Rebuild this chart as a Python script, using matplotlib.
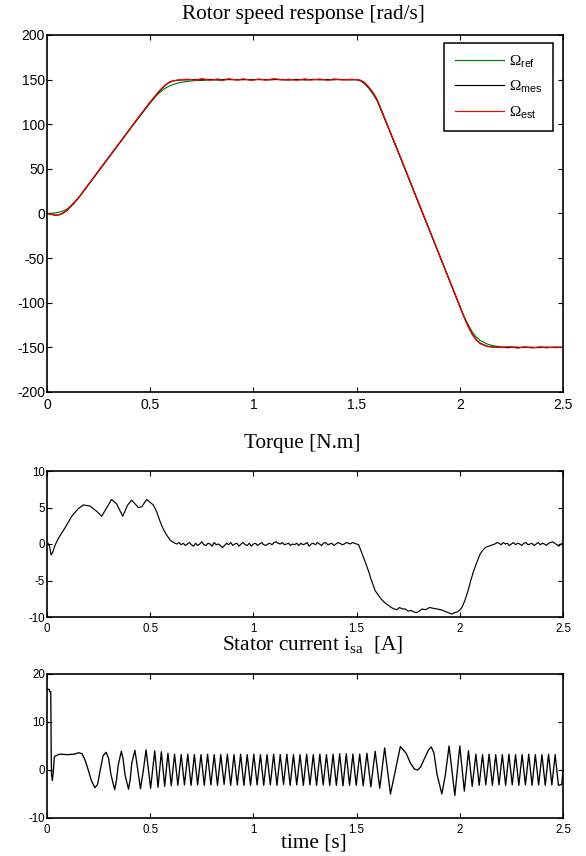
import numpy as np
import matplotlib
matplotlib.use("Agg")
import matplotlib.pyplot as plt
from matplotlib.lines import Line2D

plt.rcParams['font.family'] = ['Liberation Sans', 'DejaVu Sans']
plt.rcParams['axes.unicode_minus'] = False
plt.rcParams['mathtext.fontset'] = 'custom'
plt.rcParams['mathtext.rm'] = 'Liberation Serif'
plt.rcParams['mathtext.sf'] = 'Liberation Sans'

# ---------------- data ----------------
x_ticks = [0, 0.5, 1, 1.5, 2, 2.5]
x_ticklabels = ['0', '0.5', '1', '1.5', '2', '2.5']
speed_yticks = [-200, -150, -100, -50, 0, 50, 100, 150, 200]
torque_yticks = [-10, -5, 0, 5, 10]
current_yticks = [-10, 0, 10, 20]

# speed reference (green)
t_ref = [0, 0.03, 0.06, 0.08, 0.10, 0.12, 0.15, 0.20, 0.25, 0.30, 0.35, 0.40, 0.45, 0.50,
         0.53, 0.55, 0.57, 0.59, 0.61, 0.64, 0.68, 0.72, 0.80, 0.90, 1.50,
         1.52, 1.54, 1.56, 1.58, 1.60, 1.65, 1.70, 1.75, 1.80, 1.85, 1.90, 1.95, 2.00,
         2.02, 2.04, 2.06, 2.08, 2.10, 2.13, 2.16, 2.20, 2.30, 2.50]
w_ref = [0, 0.3, 1.5, 3.0, 5.5, 9.5, 17.0, 32.0, 47.5, 63.0, 78.5, 94.0, 109.0, 124.0,
         132.0, 136.5, 140.0, 142.5, 144.5, 146.5, 148.0, 149.0, 149.7, 150.0, 150.0,
         148.5, 145.0, 140.0, 133.5, 126.0, 98.0, 69.5, 40.5, 11.5, -17.0, -46.0, -75.0, -104.0,
         -115.0, -124.5, -132.5, -138.5, -142.5, -146.0, -148.0, -149.5, -150.0, -150.0]

# measured speed (black)
t_mes = [0, 0.02, 0.04, 0.06, 0.08, 0.10, 0.12, 0.15, 0.20, 0.25, 0.30, 0.35, 0.40, 0.45, 0.50,
         0.53, 0.55, 0.57, 0.59, 0.61, 0.64, 0.68, 0.72,
         0.75, 0.78, 0.81, 0.84, 0.87, 0.90, 0.93, 0.96, 0.99, 1.02, 1.05, 1.08, 1.11, 1.14,
         1.17, 1.20, 1.23, 1.26, 1.29, 1.32, 1.35, 1.38, 1.41, 1.44, 1.47, 1.50,
         1.52, 1.54, 1.56, 1.58, 1.60, 1.65, 1.70, 1.75, 1.80, 1.85, 1.90, 1.95, 2.00,
         2.02, 2.04, 2.06, 2.08, 2.10, 2.13, 2.16, 2.20,
         2.23, 2.26, 2.29, 2.32, 2.35, 2.38, 2.41, 2.44, 2.47, 2.50]
w_mes = [0, -1.0, -2.0, -1.5, 0.5, 4.0, 9.0, 16.5, 32.0, 47.5, 63.0, 78.5, 94.0, 109.5, 124.5,
         133.0, 138.5, 143.0, 146.5, 148.5, 149.5, 149.8, 150.2,
         149.7, 150.3, 150.0, 149.6, 150.4, 150.1, 149.8, 150.2, 149.7, 150.3, 150.0, 149.8, 150.4, 150.0,
         149.6, 150.2, 150.0, 149.7, 150.3, 149.9, 150.1, 149.8, 150.3, 150.0, 149.8, 150.0,
         149.0, 146.0, 141.0, 135.0, 127.0, 98.5, 70.0, 41.0, 12.0, -17.0, -46.0, -75.0, -104.0,
         -115.5, -126.0, -135.0, -141.5, -145.5, -148.5, -149.6, -150.0,
         -150.3, -149.8, -150.2, -149.7, -150.1, -150.3, -149.8, -150.0, -150.2, -149.9]

# estimated speed (red)
t_est = [0, 0.02, 0.04, 0.06, 0.08, 0.10, 0.12, 0.15, 0.20, 0.25, 0.30, 0.35, 0.40, 0.45, 0.50,
         0.53, 0.55, 0.57, 0.59, 0.61, 0.64, 0.68, 0.72,
         0.75, 0.79, 0.83, 0.85, 0.88, 0.92, 0.95, 0.99, 1.03, 1.06, 1.10, 1.14, 1.17,
         1.21, 1.25, 1.28, 1.32, 1.36, 1.39, 1.43, 1.47, 1.50,
         1.52, 1.54, 1.56, 1.58, 1.60, 1.65, 1.70, 1.75, 1.80, 1.85, 1.90, 1.95, 2.00,
         2.02, 2.04, 2.06, 2.08, 2.10, 2.13, 2.16, 2.20,
         2.24, 2.28, 2.31, 2.35, 2.39, 2.42, 2.46, 2.50]
w_est = [0, -0.8, -1.8, -1.2, 1.0, 4.5, 9.5, 17.0, 32.5, 48.0, 63.5, 79.0, 94.5, 110.0, 125.0,
         133.5, 139.0, 143.5, 147.0, 148.8, 149.7, 150.5, 149.5,
         151.2, 149.3, 150.8, 148.9, 151.0, 149.5, 150.9, 149.2, 150.6, 149.4, 151.1, 149.6, 150.5,
         149.2, 150.9, 149.5, 150.7, 149.3, 150.8, 149.6, 150.4, 150.0,
         149.3, 146.5, 141.5, 135.5, 127.5, 99.0, 70.5, 41.5, 12.5, -16.5, -45.5, -74.5, -103.5,
         -116.0, -126.5, -135.5, -142.0, -146.0, -148.8, -149.8, -150.2,
         -149.2, -150.9, -149.5, -150.7, -149.3, -150.6, -149.6, -150.0]

# electromagnetic torque
t_tq_a = [0, 0.005, 0.012, 0.020, 0.028, 0.036, 0.045, 0.060, 0.087, 0.120, 0.150, 0.176, 0.208,
          0.240, 0.265, 0.290, 0.313, 0.337, 0.367, 0.390, 0.410, 0.443, 0.459, 0.483, 0.515,
          0.530, 0.549, 0.564, 0.580, 0.595, 0.607, 0.615]
tq_a = [0, 0.1, -0.3, -1.5, -1.1, -0.4, 0.2, 1.0, 2.2, 3.8, 4.8, 5.35, 5.2,
        4.5, 3.8, 5.0, 6.1, 5.5, 3.8, 5.3, 6.0, 5.0, 5.1, 6.1, 5.35,
        4.5, 3.0, 2.0, 1.2, 0.6, 0.3, 0.2]
t_tq_b = list(np.round(np.arange(0.62, 1.505, 0.01), 3))
tq_b = [0.1, 0.0, 0.2, -0.1, 0.1, -0.2, 0.0, 0.2, -0.1, -0.3,
        0.1, -0.2, 0.0, 0.3, -0.1, -0.2, 0.1, 0.0, -0.3, 0.2,
        -0.1, 0.0, -0.2, -0.5, -0.2, 0.1, -0.1, 0.2, -0.2, 0.0,
        0.1, -0.3, 0.0, 0.2, -0.1, -0.2, 0.1, -0.3, 0.0, 0.1,
        -0.2, 0.0, 0.2, -0.1, -0.2, 0.0, 0.1, -0.1, 0.2, 0.3,
        0.1, 0.0, 0.2, -0.1, 0.0, 0.1, -0.2, 0.0, -0.1, 0.1,
        -0.2, 0.1, -0.1, 0.0, 0.2, -0.3, 0.0, 0.1, -0.1, 0.2,
        0.0, -0.2, 0.1, 0.2, -0.1, 0.0, 0.1, -0.2, 0.0, 0.2,
        0.1, -0.1, 0.0, 0.2, 0.1, 0.0, 0.2, 0.1, 0.0]
t_tq_c = [1.510, 1.518, 1.530, 1.545, 1.560, 1.572, 1.590, 1.605, 1.618, 1.635, 1.654, 1.668,
          1.681, 1.695, 1.708, 1.722, 1.736, 1.750, 1.763, 1.777, 1.790, 1.803, 1.817, 1.835,
          1.853, 1.870, 1.890, 1.908, 1.926, 1.945, 1.962, 1.975, 1.989, 2.002, 2.012, 2.025,
          2.040, 2.053, 2.066, 2.080, 2.090, 2.098, 2.110, 2.125, 2.140, 2.150, 2.161]
tq_c = [-0.1, -0.7, -1.6, -2.7, -3.9, -5.0, -6.4, -7.0, -7.5, -8.0, -8.4, -8.7,
        -8.9, -9.0, -8.7, -8.9, -8.9, -9.2, -9.1, -9.3, -9.4, -9.2, -8.9, -9.0,
        -8.7, -8.8, -8.9, -9.0, -9.2, -9.4, -9.6, -9.4, -9.3, -9.0, -8.6, -7.7,
        -6.4, -5.0, -3.8, -2.7, -2.0, -1.4, -0.9, -0.45, -0.3, -0.2, -0.1]
t_tq_d = list(np.round(np.arange(2.17, 2.505, 0.01), 3))
tq_d = [0.0, 0.2, 0.1, -0.1, 0.2, 0.0, 0.1, -0.2, 0.0, 0.2,
        -0.1, 0.1, 0.0, -0.2, 0.1, 0.2, -0.1, 0.0, 0.1, -0.2,
        0.0, 0.2, -0.1, 0.1, 0.0, -0.2, 0.1, 0.2, 0.3, 0.1,
        -0.1, -0.3, 0.0, 0.1]

# stator current i_sa
t_is_a = [0.000, 0.011, 0.013, 0.018, 0.019, 0.020, 0.022, 0.026, 0.030, 0.036, 0.045, 0.060,
          0.100, 0.132, 0.154, 0.170, 0.185, 0.200, 0.215, 0.232, 0.245, 0.258, 0.272, 0.286,
          0.298, 0.310, 0.328, 0.337, 0.345, 0.360, 0.368, 0.378, 0.395, 0.403, 0.411, 0.426,
          0.440, 0.453, 0.467, 0.480, 0.502, 0.522, 0.538, 0.554, 0.570]
is_a = [16.8, 16.8, 16.3, 16.3, 12.0, 5.0, -1.0, -2.2, -0.5, 2.8, 3.0, 3.3,
        3.2, 3.3, 3.6, 3.4, 2.0, 0.0, -2.2, -3.7, -3.0, 0.0, 3.0, 3.7,
        2.5, -1.0, -4.1, -2.0, 1.0, 3.9, 2.5, -1.0, -4.0, -2.0, 1.5, 4.1,
        0.0, -3.9, 0.0, 4.2, -3.8, 4.0, -3.6, 3.8, -3.4]
t_is_b = [0.586, 0.602, 0.618, 0.634, 0.650, 0.666, 0.682, 0.698, 0.714, 0.730, 0.746, 0.762,
          0.778, 0.794, 0.810, 0.826, 0.842, 0.858, 0.874, 0.890, 0.906, 0.922, 0.938, 0.954,
          0.970, 0.986, 1.002, 1.018, 1.034, 1.050, 1.066, 1.082, 1.098, 1.114, 1.130, 1.146,
          1.162, 1.178, 1.194, 1.210, 1.226, 1.242, 1.258, 1.274, 1.290, 1.306, 1.322, 1.338,
          1.354, 1.370, 1.386, 1.402, 1.418, 1.434, 1.450, 1.466, 1.482]
is_b = [3.5, -3.3, 3.3, -3.2, 3.2, -3.1, 3.3, -3.2, 3.2, -3.1, 3.2, -3.2,
        3.3, -3.1, 3.2, -3.2, 3.2, -3.0, 3.3, -3.2, 3.2, -3.1, 3.3, -3.2,
        3.2, -3.2, 3.3, -3.1, 3.2, -3.2, 3.2, -3.1, 3.3, -3.2, 3.2, -3.0,
        3.3, -3.2, 3.2, -3.1, 3.2, -3.2, 3.3, -3.1, 3.2, -3.2, 3.3, -3.1,
        3.2, -3.2, 3.3, -3.2, 3.4, -3.3, 3.4, -3.2, 3.3]
t_is_c = [1.498, 1.515, 1.532, 1.550, 1.569, 1.590, 1.612, 1.636, 1.664, 1.688, 1.712,
          1.740, 1.760, 1.780, 1.795, 1.810, 1.830, 1.850, 1.862, 1.875, 1.890, 1.913,
          1.930, 1.948, 1.976, 2.000, 2.022, 2.042, 2.060]
is_c = [-3.2, 3.3, -3.3, 3.5, -3.5, 3.9, -3.8, 4.6, -5.0, 0.0, 4.9,
        3.5, 1.5, 0.2, 0.0, 0.6, 2.5, 4.3, 4.8, 3.5, -1.0, -5.0,
        -1.0, 5.0, -5.3, 5.0, -4.4, 4.0, -3.4]
t_is_d = [2.078, 2.094, 2.110, 2.126, 2.142, 2.158, 2.174, 2.190, 2.206, 2.222, 2.238, 2.254,
          2.270, 2.286, 2.302, 2.318, 2.334, 2.350, 2.366, 2.382, 2.398, 2.414, 2.430, 2.446,
          2.462, 2.478, 2.494, 2.500]
is_d = [3.3, -3.2, 3.2, -3.1, 3.3, -3.2, 3.2, -3.1, 3.2, -3.2, 3.3, -3.1,
        3.2, -3.2, 3.2, -3.1, 3.3, -3.2, 3.2, -3.1, 3.2, -3.2, 3.3, -3.1,
        3.2, -3.2, -3.0, 0.0]

# ---------------- figure ----------------
W, H = 586, 856
fig = plt.figure(figsize=(W / 100, H / 100), dpi=100)

def ax_rect(left, top, right, bottom):
    return [left / W, 1 - bottom / H, (right - left) / W, (bottom - top) / H]

ax1 = fig.add_axes(ax_rect(47, 35, 563, 392))
ax2 = fig.add_axes(ax_rect(47, 471, 563, 617))
ax3 = fig.add_axes(ax_rect(47, 674, 563, 818))

lw = 0.85
ax1.plot(t_ref, w_ref, color='#008000', lw=lw)
ax1.plot(t_mes, w_mes, color='black', lw=lw)
ax1.plot(t_est, w_est, color='#ff0000', lw=lw)

ax2.plot(t_tq_a + t_tq_b + t_tq_c + t_tq_d, tq_a + tq_b + tq_c + tq_d, color='black', lw=lw)
ax3.plot(t_is_a + t_is_b + t_is_c + t_is_d, is_a + is_b + is_c + is_d, color='black', lw=0.95,
         solid_joinstyle='round')

for ax, yt, ylim, fs in [(ax1, speed_yticks, (-200, 200), 10.0),
                         (ax2, torque_yticks, (-10, 10), 8.3),
                         (ax3, current_yticks, (-10, 20), 8.3)]:
    ax.set_xlim(0, 2.5)
    ax.set_ylim(*ylim)
    ax.set_xticks(x_ticks)
    ax.set_xticklabels(x_ticklabels)
    ax.set_yticks(yt)
    ax.set_yticklabels([str(v) for v in yt])
    ax.tick_params(direction='in', top=True, right=True, length=3.5, width=0.8,
                   labelsize=fs)
    ax.tick_params(axis='y', pad=1.5)
    ax.tick_params(axis='x', pad=4.5)
    for s in ax.spines.values():
        s.set_linewidth(1.2)

# titles
serif = 'Liberation Serif'
fig.text(303 / W, 1 - 14 / H, 'Rotor speed response [rad/s]', family=serif, fontsize=15.3,
         ha='center', va='center')
fig.text(302 / W, 1 - 443 / H, 'Torque [N.m]', family=serif, fontsize=15.3,
         ha='center', va='center')
fig.text(313 / W, 1 - 645 / H, r'Stator current i$_{\mathrm{sa}}$  [A]', family=serif,
         fontsize=15.3, ha='center', va='center')
fig.text(314 / W, 1 - 843 / H, 'time [s]', family=serif, fontsize=15.3,
         ha='center', va='center')

handles = [Line2D([], [], color='#008000', lw=lw),
           Line2D([], [], color='black', lw=lw),
           Line2D([], [], color='#ff0000', lw=lw)]
labels = [r'$\Omega_{\mathsf{ref}}$', r'$\Omega_{\mathsf{mes}}$', r'$\Omega_{\mathsf{est}}$']
leg = ax1.legend(handles, labels, loc='upper right',
                 bbox_to_anchor=(553 / W, 1 - 43 / H), bbox_transform=fig.transFigure,
                 fancybox=False, edgecolor='black', framealpha=1, fontsize=11,
                 handlelength=3.2, labelspacing=0.55, borderpad=0.7, handletextpad=0.35,
                 borderaxespad=0)
leg.get_frame().set_linewidth(1.1)

fig.savefig('out.png', dpi=100)
